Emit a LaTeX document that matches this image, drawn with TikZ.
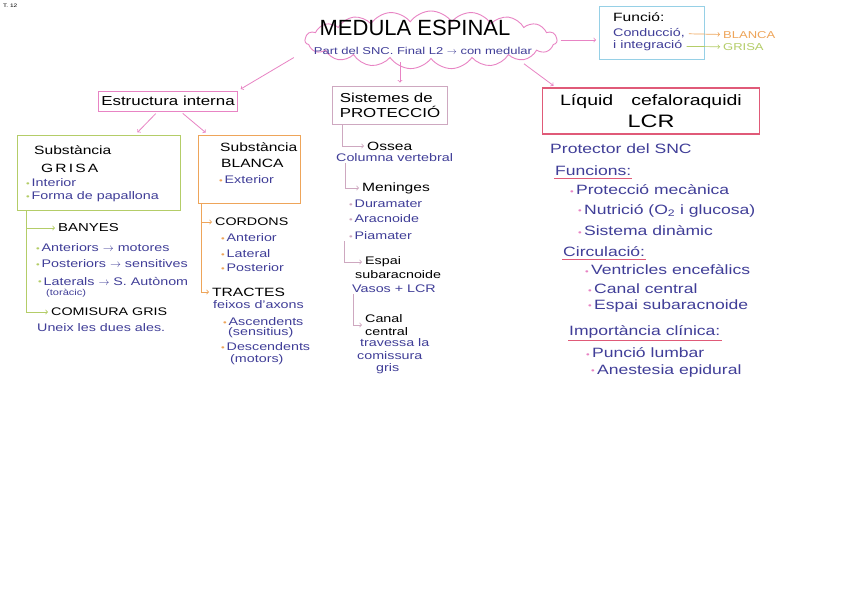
\documentclass[tikz,border=0pt]{standalone}
\usepackage{fontspec}
\setmainfont{Liberation Sans}[FakeStretch=1.3]
\newfontfamily\titlefont{Liberation Sans}
\usetikzlibrary{arrows,positioning,calc,shapes.symbols}
\definecolor{tinta}{RGB}{64,62,152}
\definecolor{rosa}{RGB}{232,132,196}
\definecolor{vermell}{RGB}{224,90,120}
\definecolor{verd}{RGB}{180,205,104}
\definecolor{taronja}{RGB}{238,165,90}
\definecolor{cel}{RGB}{150,208,230}
\definecolor{malva}{RGB}{206,168,192}
\newcommand{\punt}[1]{{\color{#1}\raisebox{0.1ex}{\footnotesize\textbullet}}\,}

\begin{document}
\begin{tikzpicture}[x=1pt,y=-1pt,
  hand/.style={anchor=west,inner sep=1pt,font=\fontsize{12}{14}\selectfont},
  blau/.style={hand,text=tinta,font=\fontsize{11}{13}\selectfont},
  blaugran/.style={hand,text=tinta,font=\fontsize{13.5}{15}\selectfont},
  caixa/.style={draw,line width=0.9pt,inner sep=3pt},
  fletxa/.style={->,rosa,line width=0.8pt,shorten >=3pt,shorten <=3pt},
  branca/.style={->,line width=0.8pt,shorten >=2pt},
  subratlla/.style={vermell,line width=0.8pt}]
\fill[white] (0,0) rectangle (848,600);
\useasboundingbox (0,0) rectangle (848,600);

\node[hand,font=\fontsize{5}{6}\selectfont] (pagina) at (2,6) {T. 12};

\node[cloud,draw=rosa,line width=0.9pt,cloud puffs=19,cloud puff arc=110,cloud ignores aspect,minimum width=252pt,minimum height=58pt] (medula) at (431,40) {};
\node[font=\titlefont\fontsize{22}{24}\selectfont] (titol) at (415,28) {MEDULA ESPINAL};
\node[text=tinta,font=\fontsize{10}{12}\selectfont] (part) at (423,51) {Part del SNC. Final L2 $\to$ con medular};

\node[caixa,draw=cel,minimum width=105pt,minimum height=53pt] (funcio) at (652,33) {};
\node[hand] (funciot) at (612,17) {Funció:};
\node[blau] (conduccio) at (612,33) {Conducció,};
\node[blau] (integracio) at (612,46) {i integració};
\node[hand,text=taronja,font=\fontsize{10}{12}\selectfont] (blancaf) at (722,35) {BLANCA};
\node[hand,text=verd,font=\fontsize{10}{12}\selectfont] (grisaf) at (722,47) {GRISA};
\path[->,line width=0.7pt,shorten >=2pt,shorten <=3pt]
(conduccio) edge[taronja] (blancaf)
(integracio) edge[verd] (grisaf);

\node[caixa,draw=rosa,font=\fontsize{13}{15}\selectfont,minimum width=137pt,minimum height=20pt] (estructura) at (168,101) {Estructura interna};
\node[caixa,draw=malva,align=left,font=\fontsize{13}{15}\selectfont,minimum width=115pt,minimum height=38pt] (proteccio) at (390,105) {Sistemes de\\PROTECCIÓ};
\node[caixa,draw=vermell,line width=1.1pt,align=center,font=\fontsize{15}{22}\selectfont,minimum width=217pt,minimum height=46pt] (lcr) at (651,111) {Líquid\hspace{1.2em}cefaloraquidi\\{\fontsize{18}{22}\selectfont LCR}};

\node[caixa,draw=verd,minimum width=163pt,minimum height=75pt] (grisa) at (98.5,172.5) {};
\node[hand] (substg) at (33,150) {Substància};
\node[hand] (grisat) at (40,168) {\addfontfeature{LetterSpace=18}GRISA};
\node[blau] (interior) at (25,183) {\punt{verd}Interior};
\node[blau] (papallona) at (25,197) {\punt{verd}Forma de papallona};
\coordinate (g0) at ([xshift=10pt]grisa.south west);
\node[hand,font=\fontsize{11.5}{13}\selectfont] (banyes) at (57,228) {BANYES};
\node[blau] (anteriors) at (35,248) {\punt{verd}Anteriors $\to$ motores};
\node[blau] (posteriors) at (35,264) {\punt{verd}Posteriors $\to$ sensitives};
\node[blau] (laterals) at (37,281) {\punt{verd}Laterals $\to$ S. Autònom};
\node[blau,font=\fontsize{8.5}{10}\selectfont] (toracic) at (45,293) {(toràcic)};
\node[hand,font=\fontsize{11}{13}\selectfont] (comisura) at (50,312) {COMISURA GRIS};
\node[blau] (uneix) at (36,328) {Uneix les dues ales.};
\draw[branca,verd] (g0) |- (banyes);
\draw[branca,verd] (g0) |- (comisura);

\node[caixa,draw=taronja,minimum width=102pt,minimum height=68pt] (blanca) at (249,169) {};
\node[hand] (substb) at (219,147) {Substància};
\node[hand] (blancat) at (220,163) {BLANCA};
\node[blau] (exterior) at (218,180) {\punt{taronja}Exterior};
\coordinate (b0) at ([xshift=4pt]blanca.south west);
\node[hand,font=\fontsize{11}{13}\selectfont] (cordons) at (214,222) {CORDONS};
\node[blau] (anterior) at (220,238) {\punt{taronja}Anterior};
\node[blau] (lateral) at (220,254) {\punt{taronja}Lateral};
\node[blau] (posterior) at (220,268) {\punt{taronja}Posterior};
\node[hand] (tractes) at (211,292) {TRACTES};
\node[blau] (feixos) at (212,305) {feixos d'axons};
\node[blau] (ascendents) at (222,322) {\punt{taronja}Ascendents};
\node[blau] (sensitius) at (227,333) {(sensitius)};
\node[blau] (descendents) at (220,347) {\punt{taronja}Descendents};
\node[blau] (motors) at (229,360) {(motors)};
\draw[branca,taronja] (b0) |- (cordons);
\draw[branca,taronja] (b0) |- (tractes);

\node[hand] (ossea) at (366,146) {Ossea};
\node[blau] (columna) at (335,158) {Columna vertebral};
\node[hand] (meninges) at (361,188) {Meninges};
\node[blau] (duramater) at (348,204) {\punt{malva}Duramater};
\node[blau] (aracnoide) at (348,219) {\punt{malva}Aracnoide};
\node[blau] (piamater) at (348,236) {\punt{malva}Piamater};
\node[hand,font=\fontsize{11}{13}\selectfont] (espai) at (364,262) {Espai};
\node[hand,font=\fontsize{11}{13}\selectfont] (subaracnoide) at (354,275) {subaracnoide};
\node[blau] (vasos) at (351,289) {Vasos + LCR};
\node[hand,align=left,font=\fontsize{11}{13}\selectfont] (canal) at (364,325) {Canal\\central};
\node[blau] (travessa) at (359,343) {travessa la};
\node[blau] (comissura) at (356,356) {comissura};
\node[blau] (gris) at (375,369) {gris};
\coordinate (p1) at ([xshift=10pt]proteccio.south west);
\coordinate (p2) at ([xshift=10pt]columna.south west);
\coordinate (p3) at ([xshift=-4pt]piamater.south west);
\coordinate (p4) at ([xshift=2pt]vasos.south west);
\draw[branca,malva] (p1) |- (ossea);
\draw[branca,malva] (p2) |- (meninges);
\draw[branca,malva] (p3) |- (espai);
\draw[branca,malva] (p4) |- (canal);

\node[blaugran] (protector) at (549,149) {Protector del SNC};
\node[blaugran] (funcions) at (554,171) {Funcions:};
\node[blaugran] (mecanica) at (569,190) {\punt{rosa}Protecció mecànica};
\node[blaugran] (nutricio) at (577,211) {\punt{rosa}Nutrició (O\textsubscript{2} i glucosa)};
\node[blaugran] (dinamic) at (577,231) {\punt{rosa}Sistema dinàmic};
\node[blaugran] (circulacio) at (562,252) {Circulació:};
\node[blaugran] (ventricles) at (584,270) {\punt{rosa}Ventricles encefàlics};
\node[blaugran] (canalc) at (587,289) {\punt{rosa}Canal central};
\node[blaugran] (espaic) at (587,306) {\punt{rosa}Espai subaracnoide};
\node[blaugran] (importancia) at (568,332) {Importància clínica:};
\node[blaugran] (puncio) at (585,353) {\punt{rosa}Punció lumbar};
\node[blaugran] (anestesia) at (590,371) {\punt{rosa}Anestesia epidural};
\draw[subratlla] ([yshift=-1pt]funcions.south west) -- ([yshift=-1pt]funcions.south east);
\draw[subratlla] ([yshift=-1pt]circulacio.south west) -- ([yshift=-1pt]circulacio.south east);
\draw[subratlla] ([yshift=-1pt]importancia.south west) -- ([yshift=-1pt]importancia.south east);

\coordinate (pn) at ([xshift=10pt]proteccio.north);
\coordinate (m1) at ([xshift=-8pt,yshift=-16pt]medula.west);
\coordinate (m2) at ([xshift=-36pt,yshift=-22pt]medula.east);
\path[fletxa]
(medula.east) edge (funcio.west |- medula.east)
(m1) edge (estructura.north east)
(pn |- medula.south) edge (pn)
(m2) edge ([xshift=14pt]lcr.north west)
(estructura) edge (grisa)
(estructura) edge (blanca);
\end{tikzpicture}
\end{document}
